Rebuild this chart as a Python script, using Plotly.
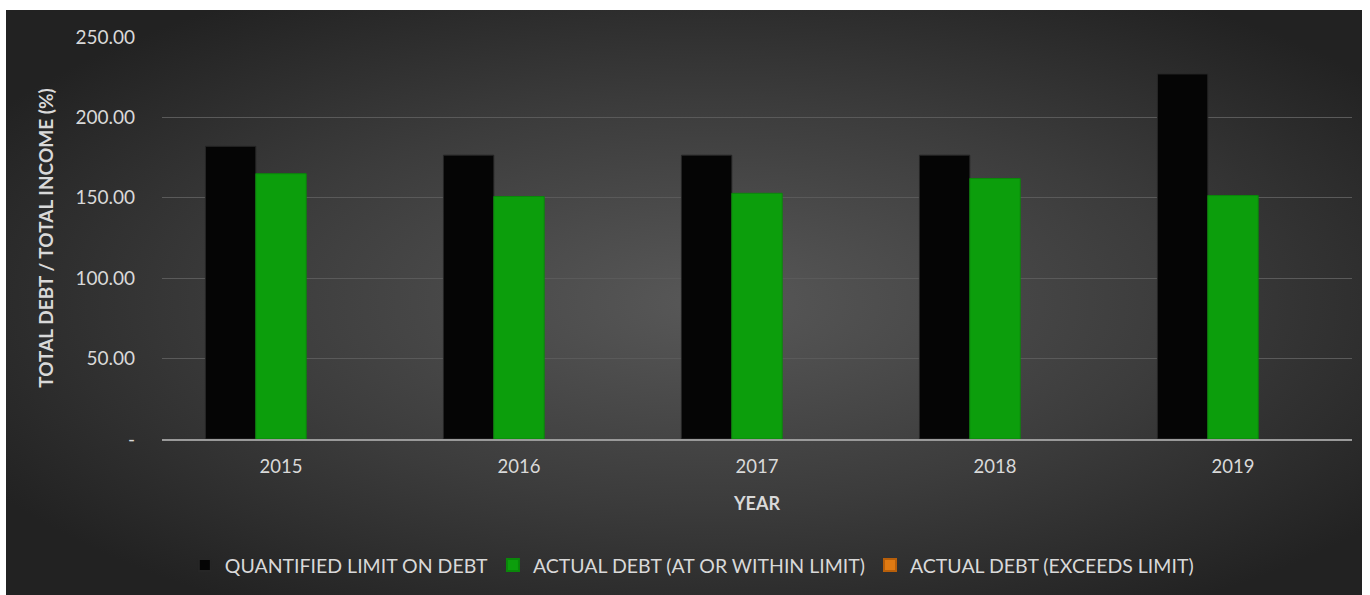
import base64
import plotly.graph_objects as go

years = ["2015", "2016", "2017", "2018", "2019"]
limit_values = [182.0, 176.5, 176.5, 176.5, 227.0]
actual_within = [165.0, 150.8, 152.8, 162.0, 151.4]
actual_exceeds = [None, None, None, None, None]
y_tick_vals = [0, 50, 100, 150, 200, 250]
y_tick_text = ["-", "50.00", "100.00", "150.00", "200.00", "250.00"]

svg = (
    '<svg xmlns="http://www.w3.org/2000/svg" width="1356" height="585" preserveAspectRatio="none">'
    '<defs><radialGradient id="g" cx="52%" cy="50%" r="62%">'
    '<stop offset="0" stop-color="#585858"/>'
    '<stop offset="0.55" stop-color="#3c3c3c"/>'
    '<stop offset="1" stop-color="#222222"/>'
    '</radialGradient></defs>'
    '<rect width="1356" height="585" fill="url(#g)"/></svg>'
)
bg_src = "data:image/svg+xml;base64," + base64.b64encode(svg.encode()).decode()

font_family = "Lato, 'Open Sans', sans-serif"
txt = "#d9d9d9"

fig = go.Figure()
fig.add_trace(go.Bar(
    x=years, y=limit_values, name="QUANTIFIED LIMIT ON DEBT",
    marker=dict(color="#050505", line=dict(color="#262626", width=1)),
))
fig.add_trace(go.Bar(
    x=years, y=actual_within, name="ACTUAL DEBT (AT OR WITHIN LIMIT)",
    marker=dict(color="#0c9e0c", line=dict(color="#0a870a", width=1)),
))
fig.add_trace(go.Bar(
    x=years, y=actual_exceeds, name="ACTUAL DEBT (EXCEEDS LIMIT)",
    marker=dict(color="#e07a12", line=dict(color="#b85f0a", width=1)),
))

# plot area geometry
L, R, T, B = 162, 18, 37, 156
W, H = 1370, 595
pw, ph = W - L - R, H - T - B

fig.update_layout(
    width=W, height=H,
    margin=dict(l=L, r=R, t=T, b=B, pad=0),
    paper_bgcolor="white",
    plot_bgcolor="rgba(0,0,0,0)",
    barmode="group",
    bargap=0.365,
    bargroupgap=0,
    font=dict(family=font_family, color=txt, size=19),
    images=[dict(
        source=bg_src, xref="paper", yref="paper",
        x=(6 - L) / pw, y=(H - B - 10) / ph,
        sizex=1356 / pw, sizey=(H - 10) / ph,
        xanchor="left", yanchor="top", sizing="stretch", layer="below",
    )],
    xaxis=dict(
        showgrid=False, showline=True, linecolor="#9a9a9a", linewidth=1.5,
        ticks="", ticklabelstandoff=10,
        tickfont=dict(size=18.5, color=txt),
        title=dict(text="<b>YEAR</b>", font=dict(size=18, color=txt), standoff=21),
    ),
    yaxis=dict(
        range=[0, 250], tickvals=y_tick_vals, ticktext=y_tick_text,
        showgrid=True, gridcolor="#5a5a5a", gridwidth=1,
        zeroline=False, showline=False, ticks="",
        ticklabelstandoff=26,
        tickfont=dict(size=19, color=txt),
        title=dict(text="<b>TOTAL DEBT / TOTAL INCOME (%)</b>",
                   font=dict(size=19, color=txt), standoff=16),
    ),
    legend=dict(
        orientation="h", xref="container", x=0.505, xanchor="center",
        yref="container", y=0.05, yanchor="middle",
        font=dict(size=19.5, color=txt), bgcolor="rgba(0,0,0,0)",
        itemsizing="constant", tracegroupgap=0,
    ),
    hovermode=False,
)

fig.write_html("out.html")
